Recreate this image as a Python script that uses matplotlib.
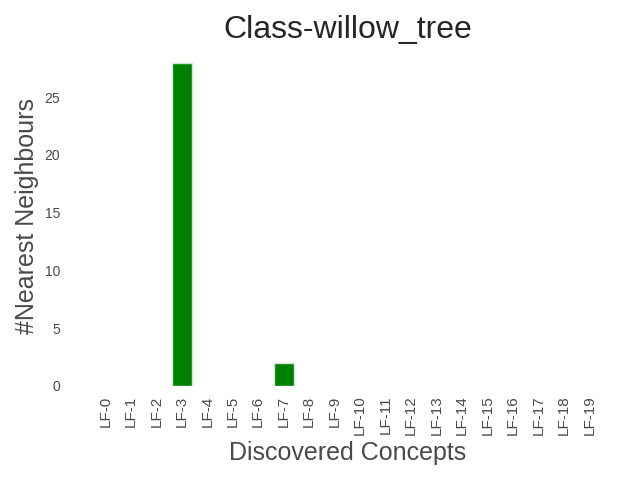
import numpy as np
import matplotlib.pyplot as plt
import seaborn as sns

sns.set_style("white")
plt.rcParams['font.family'] = ['Liberation Sans', 'DejaVu Sans']

# Datos
concepts = ['LF-%d' % i for i in range(20)]
neighbours = [0, 0, 0, 28, 0, 0, 0, 2, 0, 0, 0, 0, 0, 0, 0, 0, 0, 0, 0, 0]

fig, ax = plt.subplots(figsize=(6.4, 4.8), dpi=100)
x = np.arange(len(concepts))
edges = ['#cfe6cf' if v > 0 else 'none' for v in neighbours]
ax.bar(x, neighbours, width=0.8, color='green', edgecolor=edges, linewidth=1)
ax.set_xticks(x)
ax.set_xticklabels(concepts, rotation=90, fontsize=11, color='#4a4a4a')
ax.tick_params(axis='y', labelsize=10, labelcolor='#4a4a4a')
ax.set_title('Class-willow_tree', fontsize=23, color='#262626')
ax.set_xlabel('Discovered Concepts', fontsize=18, color='#4a4a4a')
ax.set_ylabel('#Nearest Neighbours', fontsize=18, color='#4a4a4a')
sns.despine(left=True, bottom=True)
plt.tight_layout()
plt.savefig('out.png')
